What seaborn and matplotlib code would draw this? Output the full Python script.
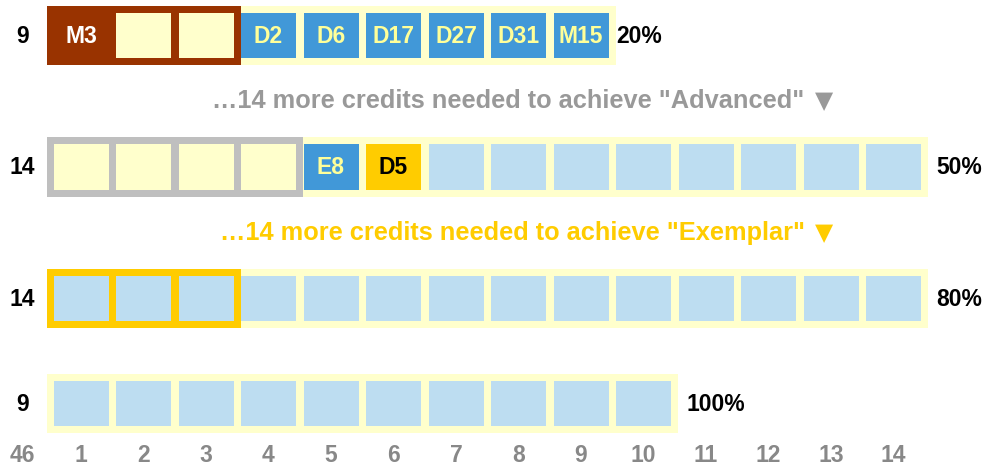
import matplotlib
matplotlib.use("Agg")
import matplotlib.pyplot as plt
import seaborn as sns

# ---------------- data ----------------
row_labels = ["9", "14", "14", "9"]
row_cell_counts = [9, 14, 14, 10]
pct_labels = ["20%", "50%", "80%", "100%"]
row1_text = ["M3", "", "", "D2", "D6", "D17", "D27", "D31", "M15"]
row1_kind = ["mandatory", "open", "open", "done", "done", "done", "done", "done", "done"]
row2_text = ["", "", "", "", "E8", "D5"] + [""] * 8
row2_kind = ["open"] * 4 + ["done", "pending"] + ["todo"] * 8
row3_text = [""] * 14
row3_kind = ["todo"] * 14
row4_text = [""] * 10
row4_kind = ["todo"] * 10
frames = [(0, 3, "mandatory"), (1, 4, "advanced"), (2, 3, "exemplar")]  # (row, n cols, style)
col_labels = [str(i) for i in range(1, 15)]
total_label = "46"
notes = ['\u202614 more credits needed to achieve "Advanced"',
         '\u202614 more credits needed to achieve "Exemplar"']
note_marker = "\u25bc"

# ---------------- style ----------------
sns.set_theme(style="white")
plt.rcParams["font.family"] = ["Liberation Sans", "DejaVu Sans"]

C_BG = "#FFFFCC"
C_DARK = "#993300"
C_BLUE = "#4198D8"
C_LIGHT = "#BDDDF1"
C_GOLD = "#FFCC00"
C_GREY = "#BFBFBF"
fill = {"mandatory": C_DARK, "open": C_BG, "done": C_BLUE, "pending": C_GOLD, "todo": C_LIGHT}
txtc = {"mandatory": "white", "open": "black", "done": "#FFFF99", "pending": "black", "todo": "black"}
frame_c = {"mandatory": C_DARK, "advanced": C_GREY, "exemplar": C_GOLD}

row_y = [35.5, 167, 298.5, 403.5]
note_y = [101, 233]
note_c = ["#999999", C_GOLD]
lab_y = 455
cell_w = 0.88
cell_h = 45.5
pad_x = 0.112
pad_y = 7
label_x = 0.06

fig = plt.figure(figsize=(9.93, 4.69), dpi=100)
ax = fig.add_axes([0, 0, 1, 1])
ax.set_xlim(-0.296, 15.592)
ax.set_ylim(469, 0)
ax.axis("off")

texts = [row1_text, row2_text, row3_text, row4_text]
kinds = [row1_kind, row2_kind, row3_kind, row4_kind]

FS = 16.5
for r in range(4):
    n = row_cell_counts[r]
    y = row_y[r]
    # background strip
    ax.bar(x=1 - cell_w / 2 - pad_x, width=(n - 1) + cell_w + 2 * pad_x,
           bottom=y - cell_h / 2 - pad_y, height=cell_h + 2 * pad_y,
           align="edge", color=C_BG, linewidth=0, zorder=1)
    for fr in frames:
        if fr[0] == r:
            k = fr[1]
            ax.bar(x=1 - cell_w / 2 - pad_x, width=(k - 1) + cell_w + 2 * pad_x,
                   bottom=y - cell_h / 2 - pad_y, height=cell_h + 2 * pad_y,
                   align="edge", color=frame_c[fr[2]], linewidth=0, zorder=2)
    cols = list(range(1, n + 1))
    ax.bar(x=cols, width=cell_w, bottom=y - cell_h / 2, height=cell_h,
           color=[fill[k] for k in kinds[r]], linewidth=0, zorder=3)
    for c, t, k in zip(cols, texts[r], kinds[r]):
        if t:
            ax.text(c, y + 1, t, ha="center", va="center", fontsize=FS,
                    fontweight="bold", color=txtc[k], zorder=4)
    ax.text(label_x, y + 1, row_labels[r], ha="center", va="center",
            fontsize=FS, fontweight="bold", color="black")
    pct_x = n + (0.56 if r == 0 else 0.68)
    ax.text(pct_x, y + 1, pct_labels[r], ha="left", va="center",
            fontsize=FS, fontweight="bold", color="black")

for t, yy, cc in zip(notes, note_y, note_c):
    ax.text(12.58, yy, t, ha="right", va="center", fontsize=18.3, fontweight="bold",
            color=cc)
    ax.text(12.89, yy, note_marker, ha="center", va="center", fontsize=17,
            family=["DejaVu Sans"], color=cc)

ax.text(label_x, lab_y, total_label, ha="center", va="center", fontsize=FS,
        fontweight="bold", color="#888888")
for i, lab in enumerate(col_labels):
    ax.text(i + 1, lab_y, lab, ha="center", va="center", fontsize=FS,
            fontweight="bold", color="#888888")

fig.savefig("out.png", dpi=100)
